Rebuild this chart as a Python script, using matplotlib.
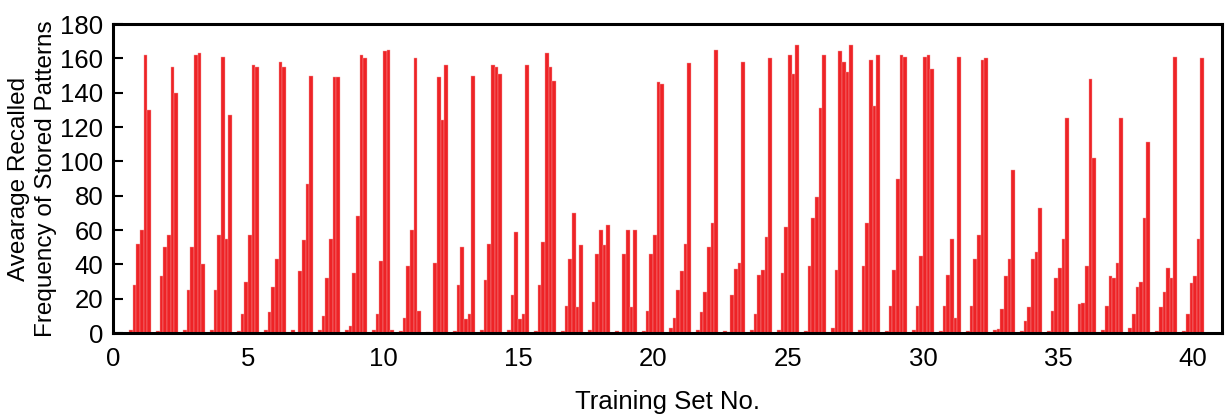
import numpy as np
import matplotlib
matplotlib.use("Agg")
import matplotlib.pyplot as plt

plt.rcParams['font.family'] = ['Liberation Sans', 'DejaVu Sans']

# 40 training sets, 6 bars per set
training_sets = np.arange(1, 41)
recalled = [
    [2, 28, 52, 60, 162, 130],
    [1, 33, 50, 57, 155, 140],
    [2, 25, 50, 162, 163, 40],
    [2, 25, 57, 161, 55, 127],
    [1, 11, 30, 57, 156, 155],
    [2, 12, 27, 43, 158, 155],
    [2, 0, 36, 54, 87, 150],
    [2, 10, 32, 55, 149, 149],
    [2, 4, 35, 68, 162, 160],
    [2, 11, 42, 164, 165, 2],
    [1, 9, 39, 60, 160, 13],
    [0.5, 0, 41, 149, 124, 156],
    [1, 28, 50, 8, 11, 150],
    [2, 31, 52, 156, 155, 151],
    [2, 22, 59, 8, 11, 156],
    [1, 28, 53, 163, 155, 147],
    [1, 16, 43, 70, 15, 51],
    [2, 18, 46, 60, 51, 63],
    [1, 0.5, 46, 60, 15, 60],
    [1, 13, 46, 57, 146, 145],
    [3, 8.5, 25, 36, 52, 157],
    [2, 12, 24, 50, 64, 165],
    [1, 0.5, 22, 37, 41, 158],
    [2, 11, 34, 36.5, 56, 160],
    [2, 35, 62, 162, 151, 168],
    [1, 39, 67, 79, 131, 162],
    [3, 36.5, 164, 158, 152, 168],
    [2, 39, 64, 159, 132, 162],
    [1, 16, 36.5, 90, 162, 161],
    [2, 16, 45, 161, 162, 154],
    [1, 16, 34, 55, 8.5, 161],
    [1, 16, 43, 57, 159, 160],
    [2, 2.5, 14, 33, 43, 95],
    [1, 7, 15, 43, 47, 73],
    [1, 13, 32, 38, 55, 125],
    [0.5, 17, 17.5, 39, 148, 102],
    [2, 15.5, 33, 32, 41, 125],
    [3, 11, 27, 29.5, 67, 111],
    [1, 15, 24, 38, 32, 161],
    [1, 11, 29, 33, 55, 160],
]
x_ticks = [0, 5, 10, 15, 20, 25, 30, 35, 40]
y_ticks = [0, 20, 40, 60, 80, 100, 120, 140, 160, 180]

vals = np.array(recalled)
n_bars = vals.shape[1]
w = 0.135

fig = plt.figure(figsize=(12.25, 4.16), dpi=100)
ax = fig.add_axes([0.0922, 0.1995, 0.9054, 0.7428])

for k in range(n_bars):
    pos = training_sets + (k - (n_bars - 1) / 2) * w
    ax.bar(pos, vals[:, k], width=w, color='#ee2326',
           edgecolor='#f49a9a', linewidth=0.3)

ax.set_xlim(0, 41.07)
ax.set_ylim(0, 180)
ax.set_xticks(x_ticks)
ax.set_yticks(y_ticks)
ax.tick_params(axis='x', length=0, labelsize=18.5, pad=10)
ax.tick_params(axis='y', direction='in', length=7, width=1.5,
               labelsize=18.5, pad=7)
for s in ax.spines.values():
    s.set_linewidth(2.2)

ax.set_xlabel('Training Set No.', fontsize=18.5, labelpad=14)
ax.set_ylabel('Avearage Recalled\nFrequency of Stored Patterns',
              fontsize=17.5, labelpad=2, linespacing=1.3)

fig.savefig('out.png', dpi=100)
